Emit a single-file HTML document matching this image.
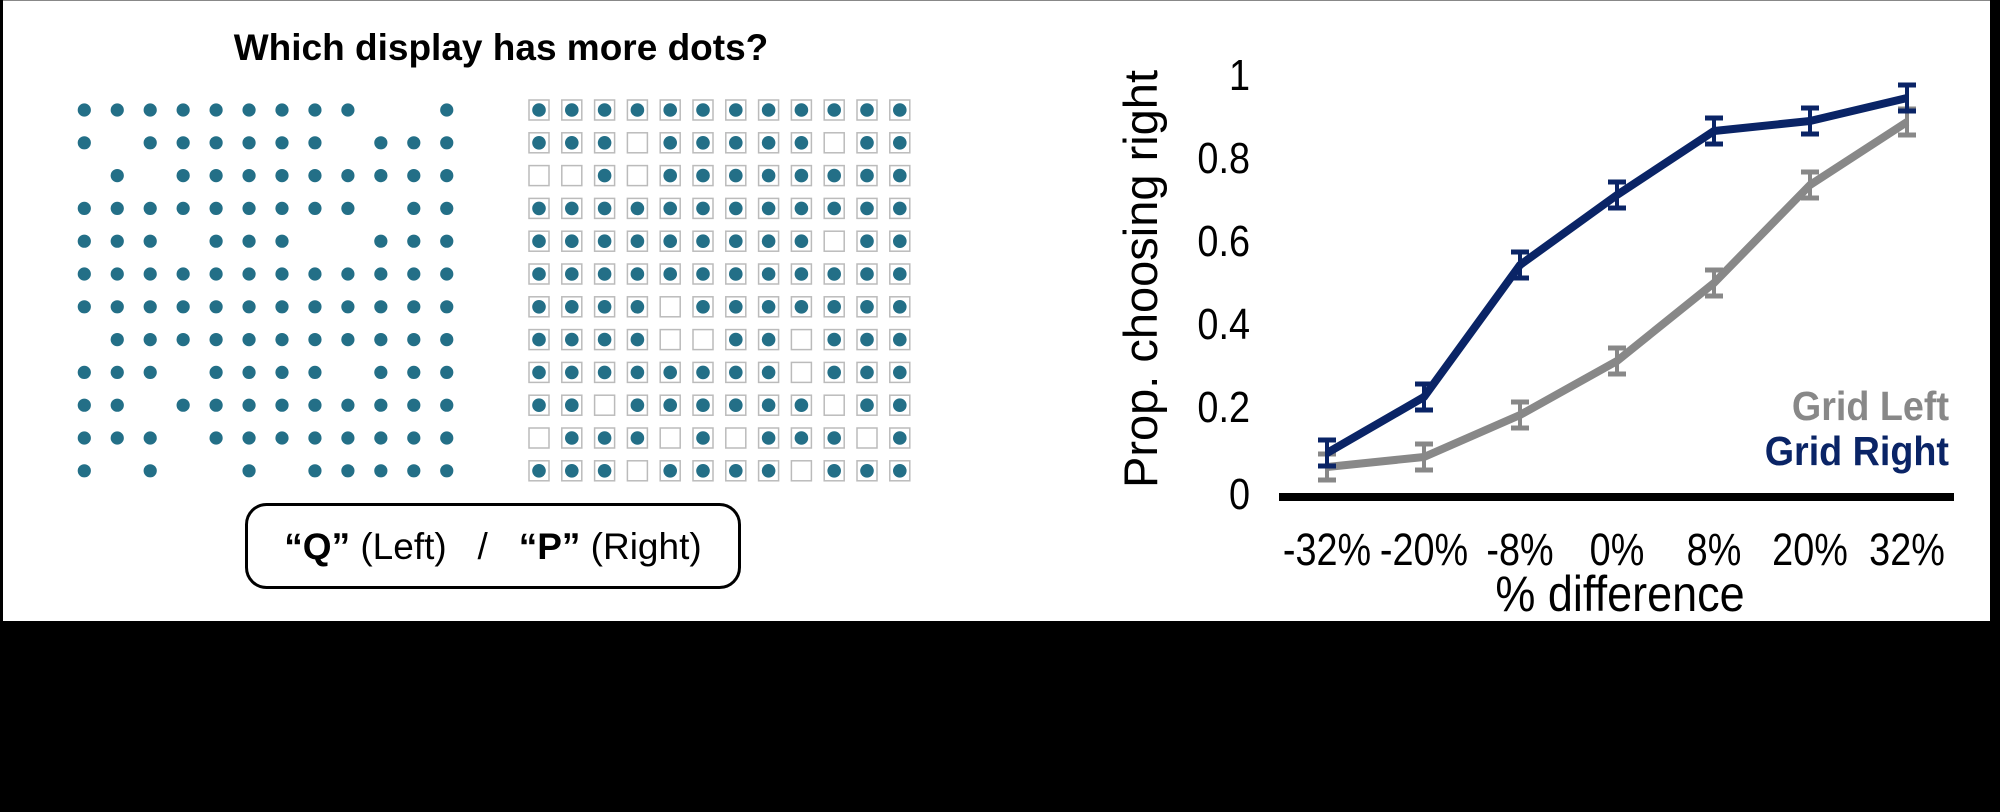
<!DOCTYPE html>
<html><head><meta charset="utf-8"><style>
html,body{margin:0;padding:0;background:#000;}
svg{display:block;}
text{font-family:"Liberation Sans",Arial,sans-serif;}
</style></head><body>
<svg width="2000" height="812" viewBox="0 0 2000 812" xmlns="http://www.w3.org/2000/svg">
<rect x="0" y="0" width="2000" height="812" fill="#000"/>
<rect x="3" y="0" width="1987" height="621" fill="#fff"/>
<line x1="3" y1="0.5" x2="1990" y2="0.5" stroke="#888" stroke-width="1"/>
<text x="501" y="60" font-size="37" font-weight="bold" text-anchor="middle">Which display has more dots?</text>
<g id="left" fill="#236f87"></g>
<g id="right"></g>
<rect x="246.5" y="504.5" width="493" height="83" rx="20" fill="none" stroke="#000" stroke-width="3"/>
<text x="493" y="559" font-size="37" text-anchor="middle" style="white-space:pre" xml:space="preserve"><tspan font-weight="bold">“Q”</tspan> (Left)   /   <tspan font-weight="bold">“P”</tspan> (Right)</text>

<!-- chart -->
<text transform="translate(1157,279) rotate(-90)" font-size="47" text-anchor="middle">Prop. choosing right</text>
<g font-size="44" text-anchor="end">
<text transform="translate(1250,90) scale(0.86,1)">1</text>
<text transform="translate(1250,173) scale(0.86,1)">0.8</text>
<text transform="translate(1250,256) scale(0.86,1)">0.6</text>
<text transform="translate(1250,339) scale(0.86,1)">0.4</text>
<text transform="translate(1250,422) scale(0.86,1)">0.2</text>
<text transform="translate(1250,509) scale(0.86,1)">0</text>
</g>
<rect x="1279" y="493" width="675" height="8" fill="#000"/>
<g font-size="45" text-anchor="middle">
<text transform="translate(1327,565) scale(0.84,1)">-32%</text>
<text transform="translate(1424,565) scale(0.84,1)">-20%</text>
<text transform="translate(1520,565) scale(0.84,1)">-8%</text>
<text transform="translate(1617,565) scale(0.84,1)">0%</text>
<text transform="translate(1714,565) scale(0.84,1)">8%</text>
<text transform="translate(1810,565) scale(0.84,1)">20%</text>
<text transform="translate(1907,565) scale(0.84,1)">32%</text>
</g>
<text transform="translate(1620,611) scale(0.9,1)" font-size="50" text-anchor="middle">% difference</text>
<text transform="translate(1949,420) scale(0.92,1)" font-size="41" font-weight="bold" fill="#888" text-anchor="end">Grid Left</text>
<text transform="translate(1949,465) scale(0.92,1)" font-size="41" font-weight="bold" fill="#0a2466" text-anchor="end">Grid Right</text>
<g id="series"></g>
</svg>
<script>
var NS="http://www.w3.org/2000/svg";
function el(p,t,a){var e=document.createElementNS(NS,t);for(var k in a)e.setAttribute(k,a[k]);p.appendChild(e);return e;}
var L=["111111111001","101111110111","010111111111","111111111011","111011100111","111111111111","111111111111","011111111111","111011110111","110111111111","111011111111","101001011111"];
var R=["111111111111","111011111011","001011111111","111111111111","111111111011","111111111111","111101111111","111100110111","111111110111","110111111011","011101011101","111011110111"];
var g1=document.getElementById("left"),g2=document.getElementById("right");
for(var r=0;r<12;r++)for(var c=0;c<12;c++){
 var y=110+r*32.8;
 if(L[r][c]=="1")el(g1,"circle",{cx:84.3+c*32.95,cy:y,r:6.6});
 var x=539+c*32.8;
 el(g2,"rect",{x:x-10,y:y-10,width:20,height:20,fill:"#fff",stroke:"#bbb","stroke-width":1.5});
 if(R[r][c]=="1")el(g2,"circle",{cx:x,cy:y,r:6.8,fill:"#236f87"});
}
var xs=[1327,1424,1520,1617,1714,1810,1907];
var gy=[467,457,415,361,283,185,122];
var by=[453,397,265,195,131,121,98];
var gs=document.getElementById("series");
function series(ys,col){
 var pts=xs.map(function(x,i){return x+","+ys[i];}).join(" ");
 el(gs,"polyline",{points:pts,fill:"none",stroke:col,"stroke-width":8,"stroke-linejoin":"round"});
 for(var i=0;i<7;i++){var x=xs[i],y=ys[i],h=13;
  el(gs,"line",{x1:x,y1:y-h,x2:x,y2:y+h,stroke:col,"stroke-width":4});
  el(gs,"line",{x1:x-9,y1:y-h,x2:x+9,y2:y-h,stroke:col,"stroke-width":5});
  el(gs,"line",{x1:x-9,y1:y+h,x2:x+9,y2:y+h,stroke:col,"stroke-width":5});}
}
series(gy,"#888");
series(by,"#0a2466");
</script>
</body></html>
